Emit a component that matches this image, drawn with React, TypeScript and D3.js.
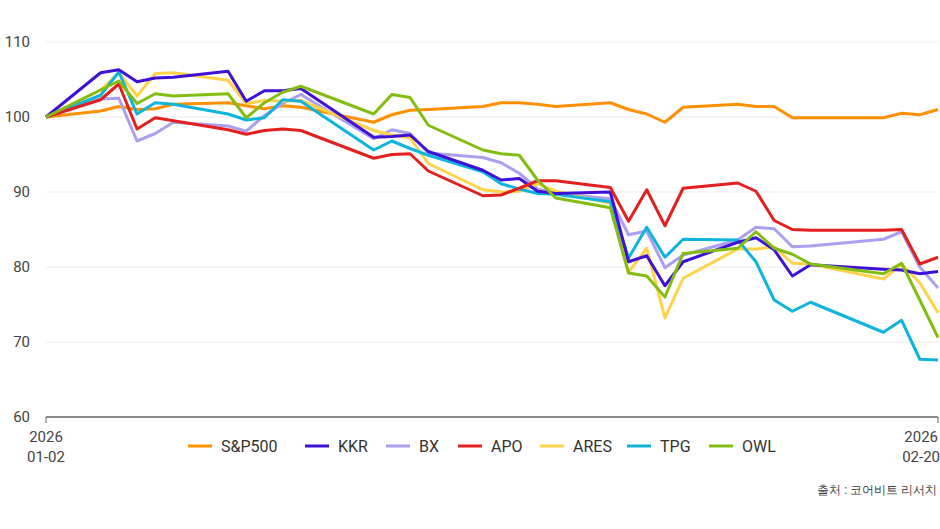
import * as d3 from 'd3'

const dates = [
  '2026-01-02', '2026-01-05', '2026-01-06', '2026-01-07', '2026-01-08', '2026-01-09',
  '2026-01-12', '2026-01-13', '2026-01-14', '2026-01-15', '2026-01-16',
  '2026-01-20', '2026-01-21', '2026-01-22', '2026-01-23',
  '2026-01-26', '2026-01-27', '2026-01-28', '2026-01-29', '2026-01-30',
  '2026-02-02', '2026-02-03', '2026-02-04', '2026-02-05', '2026-02-06',
  '2026-02-09', '2026-02-10', '2026-02-11', '2026-02-12', '2026-02-13',
  '2026-02-17', '2026-02-18', '2026-02-19', '2026-02-20',
]

const spx = [100, 100.8, 101.4, 101.0, 101.1, 101.7, 101.9, 101.5, 101.1, 101.5, 101.3, 99.3, 100.3, 100.9, 101.0, 101.4, 101.9, 101.9, 101.7, 101.4, 101.9, 101.0, 100.4, 99.3, 101.3, 101.7, 101.4, 101.4, 99.9, 99.9, 99.9, 100.5, 100.3, 101.0]
const kkr = [100, 105.9, 106.3, 104.7, 105.2, 105.3, 106.1, 102.1, 103.5, 103.5, 103.8, 97.3, 97.4, 97.6, 95.4, 92.9, 91.6, 91.8, 90.1, 89.8, 90.0, 80.7, 81.5, 77.5, 80.7, 83.3, 83.9, 82.3, 78.8, 80.3, 79.7, 79.6, 79.1, 79.4]
const bx = [100, 102.4, 102.5, 96.8, 97.8, 99.3, 98.8, 98.1, 100.2, 101.8, 103.0, 97.1, 98.3, 97.8, 95.2, 94.6, 93.9, 92.5, 90.4, 89.8, 89.1, 84.3, 84.8, 79.9, 81.6, 83.6, 85.3, 85.1, 82.7, 82.8, 83.7, 84.7, 80.0, 77.2]
const apo = [100, 102.3, 104.4, 98.4, 99.9, 99.5, 98.3, 97.7, 98.2, 98.4, 98.2, 94.5, 95.0, 95.1, 92.8, 89.5, 89.6, 90.5, 91.5, 91.5, 90.6, 86.1, 90.3, 85.5, 90.5, 91.2, 90.1, 86.2, 85.0, 84.9, 84.9, 85.0, 80.4, 81.3]
const ares = [100, 103.6, 105.9, 102.8, 105.8, 105.9, 104.9, 101.8, 102.2, 102.1, 102.2, 98.2, 97.6, 97.2, 93.8, 90.3, 90.0, 90.1, 91.1, 90.1, 88.5, 79.3, 82.5, 73.2, 78.5, 82.4, 82.4, 82.7, 80.5, 80.4, 78.4, 80.4, 77.9, 73.9]
const tpg = [100, 102.9, 106.0, 100.4, 101.9, 101.7, 100.4, 99.6, 99.9, 102.3, 102.1, 95.6, 96.8, 95.8, 94.9, 92.7, 91.1, 90.4, 89.8, 89.7, 88.7, 81.2, 85.3, 81.3, 83.7, 83.6, 80.7, 75.6, 74.1, 75.3, 71.3, 72.9, 67.7, 67.6]
const owl = [100, 103.6, 104.8, 101.8, 103.1, 102.8, 103.1, 99.9, 101.9, 103.3, 104.1, 100.4, 103.0, 102.6, 98.9, 95.6, 95.1, 94.9, 91.6, 89.2, 87.9, 79.2, 78.8, 76.0, 81.8, 82.5, 84.7, 82.5, 81.7, 80.4, 79.1, 80.5, 75.6, 70.6]

const series = [
  { name: 'S&P500', color: '#ff9000', values: spx },
  { name: 'KKR', color: '#3f10d6', values: kkr },
  { name: 'BX', color: '#ab9ff0', values: bx },
  { name: 'APO', color: '#e3201f', values: apo },
  { name: 'ARES', color: '#ffd24a', values: ares },
  { name: 'TPG', color: '#0fb4dd', values: tpg },
  { name: 'OWL', color: '#84bd12', values: owl },
]
const yTicks = [60, 70, 80, 90, 100, 110]
// draw order: later on top
const drawOrder = ['S&P500', 'BX', 'ARES', 'TPG', 'KKR', 'APO', 'OWL']

const W = 940
const H = 529
const left = 46
const right = 938
const top = 42
const bottom = 417

export default function App() {
  const parse = d3.utcParse('%Y-%m-%d')
  const ds = dates.map(d => parse(d) as Date)
  const x = d3.scaleUtc().domain([ds[0], ds[ds.length - 1]]).range([left, right])
  const y = d3.scaleLinear().domain([60, 110]).range([bottom, top])
  const line = d3.line<number>().x((_, i) => x(ds[i])).y(v => y(v))
  const font = 'Roboto, "Noto Sans", sans-serif'
  const legendX = [188, 305, 386, 458, 540, 627, 709]

  return (
    <svg width={W} height={H} style={{ position: 'absolute', left: 0, top: 0, fontFamily: font }}>
      <rect width={W} height={H} fill="#fff" />
      {yTicks.map(t => (
        <g key={t}>
          {t > 60 && <line x1={left} x2={right} y1={y(t)} y2={y(t)} stroke="#ececec" />}
          <text x={30} y={y(t) + 5} textAnchor="end" fontSize={15} fill="#444">{t}</text>
        </g>
      ))}
      {drawOrder.map(n => {
        const s = series.find(s => s.name === n)!
        return <path key={n} d={line(s.values) ?? ''} fill="none" stroke={s.color} strokeWidth={3} strokeLinejoin="round" />
      })}
      <line x1={left} x2={right} y1={bottom} y2={bottom} stroke="#666" strokeWidth={1.5} />
      <line x1={left} x2={left} y1={bottom} y2={bottom + 6} stroke="#666" />
      <line x1={right} x2={right} y1={bottom} y2={bottom + 6} stroke="#666" />
      {[ds[0], ds[ds.length - 1]].map((d, i) => (
        <g key={i} fontSize={15} fill="#444" textAnchor={i === 0 ? 'middle' : 'end'}>
          <text x={i === 0 ? x(d) : 938} y={442}>{d3.utcFormat('%Y')(d)}</text>
          <text x={i === 0 ? x(d) : 940} y={462}>{d3.utcFormat('%m-%d')(d)}</text>
        </g>
      ))}
      {series.map((s, i) => (
        <g key={s.name}>
          <line x1={legendX[i]} x2={legendX[i] + 24} y1={446} y2={446} stroke={s.color} strokeWidth={3} />
          <text x={legendX[i] + 33} y={452} fontSize={16} fill="#333">{s.name}</text>
        </g>
      ))}
      <text x={937} y={494} textAnchor="end" fontSize={12} fill="#444">출처 : 코어비트 리서치</text>
    </svg>
  )
}
